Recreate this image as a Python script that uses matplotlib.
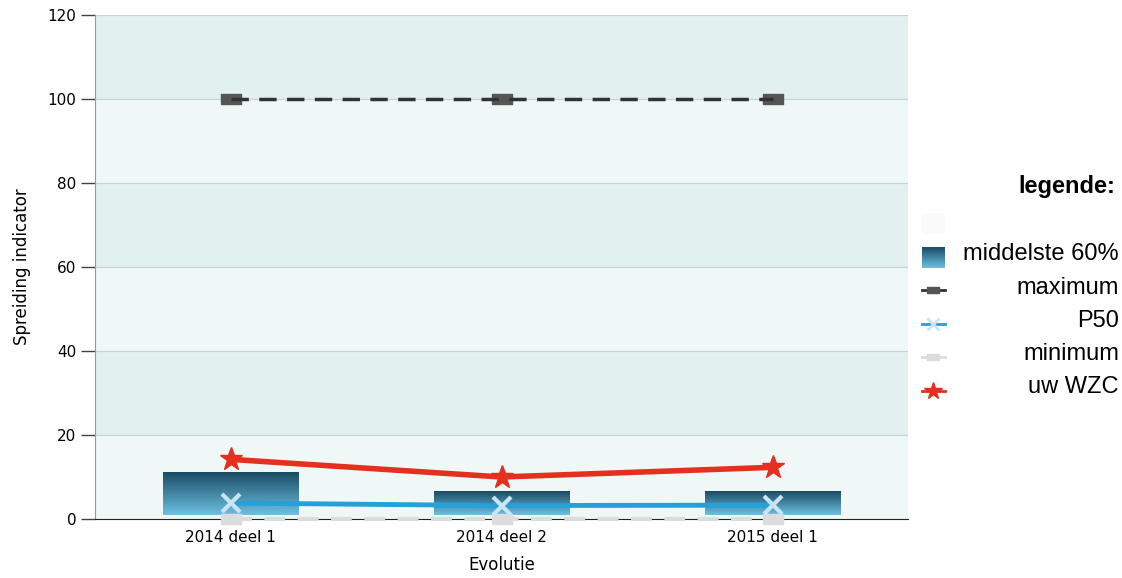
import matplotlib.pyplot as plt
import numpy as np
from matplotlib.colors import LinearSegmentedColormap

periodes = ["2014 deel 1", "2014 deel 2", "2015 deel 1"]
p20 = [1.0, 1.0, 1.0]
p80 = [11.2, 6.6, 6.6]
maximum = [100, 100, 100]
p50 = [3.8, 3.2, 3.3]
minimum = [0, 0, 0]
uw_wzc = [14.2, 10.0, 12.3]

grad = LinearSegmentedColormap.from_list("g", ["#6cc0e2", "#1a4c64"])
box = [(-1, -0.5), (1, -0.5), (1, 0.5), (-1, 0.5), (-1, -0.5)]

fig = plt.figure(figsize=(11.22, 5.78), dpi=100)
ax = fig.add_axes([95 / 1122, 59 / 578, 813 / 1122, 504 / 578])
x = np.arange(len(periodes))

# achtergrondbanden
for i, y0 in enumerate(range(0, 120, 20)):
    ax.axhspan(y0, y0 + 20, color="#eff8f7" if i % 2 == 0 else "#e1f1f0", zorder=0, lw=0)
for y in range(20, 121, 20):
    ax.axhline(y, color="#c9d3d1", lw=0.9, zorder=1)

# middelste 60% als gradient-balken
g = np.linspace(0, 1, 100).reshape(-1, 1)
for xi, lo, hi in zip(x, p20, p80):
    ax.imshow(g, cmap=grad, aspect="auto", origin="lower",
              extent=(xi - 0.25, xi + 0.25, lo, hi), zorder=2)

ax.plot(x, minimum, color="#dcdcdc", lw=3, dashes=(5, 3), marker=box,
        markersize=14, zorder=3, clip_on=False)
ax.plot(x, maximum, ls="none", marker=box, markersize=14, color="#555555", zorder=2)
ax.plot(x, maximum, color="#333333", lw=2.5, dashes=(5, 3), zorder=3)
ax.plot(x, p50, color="#26a0d8", lw=3.5, zorder=4)
ax.plot(x, p50, ls="none", marker="x", markersize=13, mew=3, color="#c9e4f2", zorder=5)
ax.plot(x, uw_wzc, color="#e3301f", lw=4, marker="*", markersize=17, zorder=6)

ax.set_xlim(-0.5, 2.5)
ax.set_ylim(0, 120)
ax.set_yticks(range(0, 121, 20))
ax.set_xticks(x)
ax.set_xticklabels(periodes)
ax.tick_params(axis="x", length=0, pad=8, labelsize=11)
ax.tick_params(axis="y", length=10, width=1, color="#444444", labelsize=11)
for s in ["top", "right"]:
    ax.spines[s].set_visible(False)
ax.spines["left"].set_color("#999999")
ax.spines["bottom"].set_color("#222222")
ax.set_xlabel("Evolutie", fontsize=12, labelpad=8)
ax.set_ylabel("Spreiding indicator", fontsize=12, labelpad=12)

# legende
fig.text(1115 / 1122, 1 - 187 / 578, "legende:", ha="right", va="center",
         fontsize=17, fontweight="bold", family="Liberation Sans")
items = [(254, "middelste 60%"), (288, "maximum"), (321, "P50"), (354, "minimum"), (387, "uw WZC")]
for yp, label in items:
    fig.text(1119 / 1122, 1 - yp / 578, label, ha="right", va="center",
             fontsize=17, family="Liberation Sans")
lax = fig.add_axes([0, 0, 1, 1], facecolor="none")
lax.axis("off")
lax.imshow(g, cmap=grad, aspect="auto", origin="upper", extent=(922, 945, 247, 268))
lax.fill_between([922, 945], 213, 234, color="#fafafa", lw=0)
lax.plot([922, 945], [290, 290], color="#333333", lw=2)
lax.plot([933.5], [290], marker=box, markersize=8, color="#555555")
lax.plot([922, 945], [324, 324], color="#26a0d8", lw=2)
lax.plot([933.5], [324], marker="x", markersize=9, mew=2, color="#c9e4f2")
lax.plot([922, 945], [357, 357], color="#dcdcdc", lw=2)
lax.plot([933.5], [357], marker=box, markersize=8, color="#dcdcdc")
lax.plot([922, 945], [391, 391], color="#e3301f", lw=2)
lax.plot([933.5], [391], marker="*", markersize=13, color="#e3301f")
lax.set_xlim(0, 1122)
lax.set_ylim(578, 0)

fig.savefig("out.png", dpi=100)
